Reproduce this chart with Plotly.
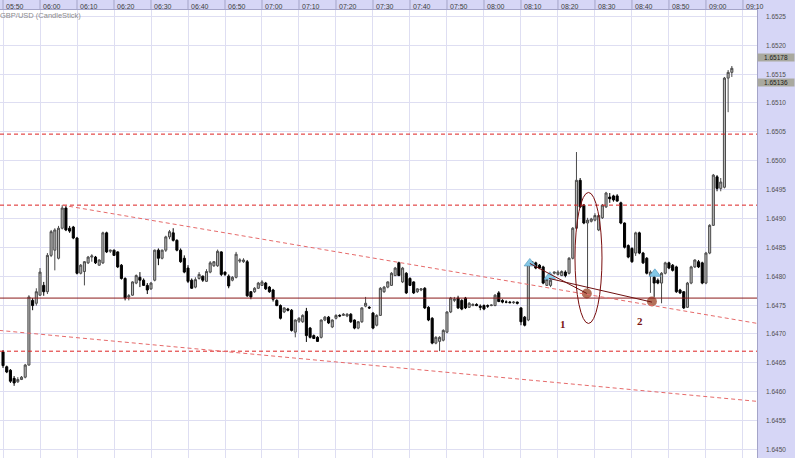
import pandas as pd
import plotly.graph_objects as go

# ---------------- data (GBP/USD 1-minute candles, 05:50 -> 09:07) ----------------
opens = [1.64669, 1.64643, 1.64637, 1.64623, 1.64617, 1.64621, 1.64625, 1.64646, 1.64758, 1.64753,
         1.64767, 1.64784, 1.64773, 1.64836, 1.64845, 1.64831, 1.64883, 1.64918, 1.64883, 1.64885,
         1.64866, 1.64805, 1.64808, 1.64823, 1.64833, 1.64833, 1.64819, 1.64823, 1.64875, 1.64843,
         1.64845, 1.64842, 1.64819, 1.64796, 1.64764, 1.64767, 1.64788, 1.64798, 1.64793, 1.64784,
         1.64778, 1.64793, 1.64845, 1.64831, 1.64845, 1.64868, 1.64875, 1.64862, 1.64845, 1.64831,
         1.64814, 1.64793, 1.64781, 1.64796, 1.64800, 1.64791, 1.64807, 1.64818, 1.64818, 1.64842,
         1.64807, 1.64800, 1.64793, 1.64798, 1.64826, 1.64825, 1.64825, 1.64773, 1.64773, 1.64779,
         1.64784, 1.64788, 1.64781, 1.64776, 1.64758, 1.64749, 1.64738, 1.64743, 1.64741, 1.64703,
         1.64722, 1.64721, 1.64739, 1.64710, 1.64697, 1.64694, 1.64694, 1.64724, 1.64729, 1.64712,
         1.64727, 1.64732, 1.64732, 1.64731, 1.64734, 1.64724, 1.64710, 1.64721, 1.64748, 1.64746,
         1.64736, 1.64715, 1.64732, 1.64773, 1.64781, 1.64784, 1.64801, 1.64823, 1.64790, 1.64805,
         1.64796, 1.64790, 1.64773, 1.64776, 1.64779, 1.64746, 1.64727, 1.64684, 1.64687, 1.64689,
         1.64703, 1.64738, 1.64758, 1.64762, 1.64758, 1.64762, 1.64746, 1.64749, 1.64751, 1.64748,
         1.64749, 1.64749, 1.64749, 1.64749, 1.64771, 1.64758, 1.64755, 1.64755, 1.64754, 1.64755,
         1.64745, 1.64729, 1.64724, 1.64823, 1.64823, 1.64819, 1.64816, 1.64784, 1.64784, 1.64805,
         1.64803, 1.64801, 1.64807, 1.64805, 1.64831, 1.64883, 1.64966, 1.64923, 1.64892, 1.64895,
         1.64897, 1.64880, 1.64901, 1.64920, 1.64937, 1.64939, 1.64939, 1.64927, 1.64892, 1.64853,
         1.64848, 1.64840, 1.64875, 1.64840, 1.64831, 1.64801, 1.64798, 1.64793, 1.64788, 1.64805,
         1.64823, 1.64819, 1.64816, 1.64776, 1.64773, 1.64746, 1.64788, 1.64816, 1.64825, 1.64823,
         1.64788, 1.64840, 1.64888, 1.64972, 1.64952, 1.64954, 1.65143, 1.65153]
highs = [1.64672, 1.64645, 1.64639, 1.64627, 1.64625, 1.64627, 1.64648, 1.64767, 1.64762, 1.64779,
         1.64814, 1.64790, 1.64840, 1.64880, 1.64883, 1.64887, 1.64923, 1.64922, 1.64887, 1.64887,
         1.64868, 1.64821, 1.64826, 1.64835, 1.64838, 1.64835, 1.64829, 1.64877, 1.64877, 1.64846,
         1.64846, 1.64843, 1.64821, 1.64798, 1.64769, 1.64791, 1.64803, 1.64807, 1.64796, 1.64788,
         1.64790, 1.64846, 1.64848, 1.64846, 1.64870, 1.64880, 1.64883, 1.64864, 1.64848, 1.64836,
         1.64819, 1.64796, 1.64798, 1.64807, 1.64801, 1.64812, 1.64826, 1.64826, 1.64846, 1.64843,
         1.64808, 1.64803, 1.64800, 1.64842, 1.64831, 1.64831, 1.64828, 1.64774, 1.64781, 1.64790,
         1.64793, 1.64790, 1.64783, 1.64778, 1.64760, 1.64751, 1.64746, 1.64745, 1.64743, 1.64725,
         1.64729, 1.64734, 1.64745, 1.64712, 1.64699, 1.64696, 1.64725, 1.64731, 1.64731, 1.64725,
         1.64734, 1.64734, 1.64736, 1.64736, 1.64736, 1.64725, 1.64722, 1.64746, 1.64764, 1.64748,
         1.64738, 1.64734, 1.64781, 1.64783, 1.64791, 1.64807, 1.64816, 1.64825, 1.64816, 1.64807,
         1.64798, 1.64791, 1.64779, 1.64779, 1.64781, 1.64748, 1.64729, 1.64696, 1.64696, 1.64708,
         1.64739, 1.64764, 1.64764, 1.64766, 1.64760, 1.64764, 1.64755, 1.64753, 1.64753, 1.64751,
         1.64751, 1.64751, 1.64751, 1.64769, 1.64774, 1.64760, 1.64758, 1.64757, 1.64757, 1.64756,
         1.64746, 1.64731, 1.64825, 1.64826, 1.64825, 1.64821, 1.64818, 1.64796, 1.64796, 1.64808,
         1.64810, 1.64810, 1.64810, 1.64833, 1.64885, 1.65015, 1.64970, 1.64925, 1.64901, 1.64901,
         1.64909, 1.64907, 1.64925, 1.64946, 1.64944, 1.64941, 1.64942, 1.64929, 1.64893, 1.64855,
         1.64850, 1.64877, 1.64877, 1.64842, 1.64833, 1.64810, 1.64800, 1.64796, 1.64807, 1.64825,
         1.64825, 1.64821, 1.64818, 1.64778, 1.64774, 1.64790, 1.64818, 1.64829, 1.64828, 1.64825,
         1.64842, 1.64890, 1.64977, 1.64975, 1.64970, 1.65145, 1.65157, 1.65164]
lows = [1.64641, 1.64632, 1.64615, 1.64610, 1.64615, 1.64620, 1.64623, 1.64645, 1.64741, 1.64749,
        1.64766, 1.64766, 1.64769, 1.64833, 1.64810, 1.64829, 1.64881, 1.64878, 1.64875, 1.64864,
        1.64803, 1.64803, 1.64784, 1.64821, 1.64825, 1.64821, 1.64818, 1.64821, 1.64840, 1.64840,
        1.64835, 1.64814, 1.64794, 1.64758, 1.64758, 1.64766, 1.64786, 1.64781, 1.64783, 1.64769,
        1.64776, 1.64791, 1.64819, 1.64829, 1.64842, 1.64864, 1.64860, 1.64843, 1.64823, 1.64805,
        1.64788, 1.64778, 1.64779, 1.64794, 1.64790, 1.64790, 1.64805, 1.64816, 1.64816, 1.64800,
        1.64800, 1.64779, 1.64791, 1.64796, 1.64823, 1.64823, 1.64764, 1.64760, 1.64771, 1.64778,
        1.64783, 1.64776, 1.64771, 1.64756, 1.64748, 1.64725, 1.64736, 1.64739, 1.64704, 1.64694,
        1.64719, 1.64719, 1.64686, 1.64692, 1.64691, 1.64686, 1.64692, 1.64722, 1.64717, 1.64710,
        1.64725, 1.64729, 1.64731, 1.64729, 1.64719, 1.64708, 1.64708, 1.64719, 1.64746, 1.64743,
        1.64708, 1.64713, 1.64731, 1.64771, 1.64779, 1.64783, 1.64800, 1.64800, 1.64788, 1.64769,
        1.64783, 1.64769, 1.64771, 1.64774, 1.64743, 1.64722, 1.64682, 1.64682, 1.64670, 1.64687,
        1.64701, 1.64736, 1.64755, 1.64743, 1.64741, 1.64743, 1.64745, 1.64748, 1.64748, 1.64741,
        1.64741, 1.64745, 1.64748, 1.64748, 1.64755, 1.64753, 1.64753, 1.64753, 1.64752, 1.64751,
        1.64715, 1.64713, 1.64722, 1.64821, 1.64812, 1.64812, 1.64786, 1.64783, 1.64781, 1.64803,
        1.64801, 1.64800, 1.64798, 1.64803, 1.64829, 1.64881, 1.64918, 1.64890, 1.64773, 1.64893,
        1.64895, 1.64878, 1.64899, 1.64918, 1.64927, 1.64929, 1.64929, 1.64890, 1.64848, 1.64831,
        1.64823, 1.64835, 1.64838, 1.64821, 1.64803, 1.64771, 1.64764, 1.64786, 1.64753, 1.64803,
        1.64812, 1.64808, 1.64771, 1.64769, 1.64743, 1.64745, 1.64786, 1.64814, 1.64814, 1.64786,
        1.64786, 1.64838, 1.64887, 1.64947, 1.64947, 1.64952, 1.65084, 1.65145]
closes = [1.64645, 1.64634, 1.64618, 1.64615, 1.64621, 1.64625, 1.64646, 1.64764, 1.64749, 1.64773,
          1.64807, 1.64773, 1.64836, 1.64877, 1.64880, 1.64883, 1.64918, 1.64880, 1.64878, 1.64866,
          1.64805, 1.64819, 1.64825, 1.64833, 1.64835, 1.64823, 1.64828, 1.64875, 1.64842, 1.64845,
          1.64836, 1.64816, 1.64796, 1.64762, 1.64766, 1.64790, 1.64801, 1.64793, 1.64784, 1.64776,
          1.64788, 1.64845, 1.64831, 1.64845, 1.64868, 1.64877, 1.64862, 1.64845, 1.64825, 1.64807,
          1.64791, 1.64779, 1.64794, 1.64803, 1.64793, 1.64808, 1.64823, 1.64825, 1.64843, 1.64803,
          1.64803, 1.64783, 1.64798, 1.64838, 1.64828, 1.64828, 1.64766, 1.64764, 1.64779, 1.64788,
          1.64790, 1.64778, 1.64773, 1.64760, 1.64749, 1.64727, 1.64745, 1.64741, 1.64706, 1.64724,
          1.64727, 1.64732, 1.64697, 1.64694, 1.64692, 1.64687, 1.64724, 1.64729, 1.64719, 1.64724,
          1.64732, 1.64731, 1.64734, 1.64734, 1.64721, 1.64710, 1.64721, 1.64745, 1.64753, 1.64745,
          1.64710, 1.64732, 1.64779, 1.64781, 1.64790, 1.64805, 1.64814, 1.64801, 1.64814, 1.64771,
          1.64784, 1.64771, 1.64778, 1.64778, 1.64745, 1.64724, 1.64684, 1.64694, 1.64694, 1.64706,
          1.64738, 1.64762, 1.64760, 1.64745, 1.64743, 1.64745, 1.64753, 1.64751, 1.64749, 1.64746,
          1.64743, 1.64748, 1.64750, 1.64767, 1.64756, 1.64755, 1.64755, 1.64754, 1.64755, 1.64753,
          1.64721, 1.64715, 1.64823, 1.64825, 1.64814, 1.64814, 1.64788, 1.64794, 1.64793, 1.64807,
          1.64807, 1.64808, 1.64801, 1.64831, 1.64883, 1.64966, 1.64920, 1.64892, 1.64897, 1.64899,
          1.64905, 1.64905, 1.64923, 1.64944, 1.64934, 1.64932, 1.64930, 1.64892, 1.64850, 1.64833,
          1.64825, 1.64875, 1.64840, 1.64823, 1.64805, 1.64807, 1.64788, 1.64788, 1.64805, 1.64823,
          1.64814, 1.64810, 1.64773, 1.64771, 1.64745, 1.64788, 1.64816, 1.64828, 1.64816, 1.64788,
          1.64840, 1.64888, 1.64975, 1.64952, 1.64963, 1.65143, 1.65153, 1.65160]

session_date = "2013-06-27"
first_bar = "05:50"
x_tick_labels = ["05:50", "06:00", "06:10", "06:20", "06:30", "06:40", "06:50", "07:00",
                 "07:10", "07:20", "07:30", "07:40", "07:50", "08:00", "08:10", "08:20",
                 "08:30", "08:40", "08:50", "09:00", "09:10"]
y_tick_vals = [1.6450, 1.6455, 1.6460, 1.6465, 1.6470, 1.6475, 1.6480, 1.6485,
               1.6490, 1.6495, 1.6500, 1.6505, 1.6510, 1.6515, 1.6520, 1.6525]
x_view = ["05:49:11", "09:13:48"]
y_view = [1.64485, 1.65261]

# drawn objects (analysis overlay)
dashed_levels = [1.65046, 1.64923, 1.64670]
solid_level = 1.64762
channel_upper = [("06:06", 1.64923), ("09:14", 1.64718)]
channel_lower = [("05:49", 1.64706), ("09:14", 1.64583)]
trend_a = [("08:12:24", 1.64822), ("08:27:48", 1.64770)]
trend_b = [("08:17:36", 1.64796), ("08:45:24", 1.64755)]
signal_times = ["08:12:24", "08:17:48", "08:46:12"]
signal_prices = [1.64822, 1.64799, 1.64804]
touch_times = ["08:27:48", "08:45:24"]
touch_prices = [1.64770, 1.64756]
ellipse_box = [("08:24:36", 1.64718), ("08:31:54", 1.64945)]
point_labels = [("1", "08:21:22", 1.64717), ("2", "08:42:10", 1.64723)]
price_tags = [1.65178, 1.65136]
title_text = "GBP/USD (CandleStick)"


def ts(hm):
    return session_date + " " + hm


times = pd.date_range(ts(first_bar), periods=len(opens), freq="min")

PANEL = "#d6d6f6"
GRID = "#dedef2"
FONT = "Liberation Sans"

fig = go.Figure()
fig.add_trace(go.Candlestick(
    x=times, open=opens, high=highs, low=lows, close=closes,
    increasing=dict(line=dict(color="#4a4a4a", width=1), fillcolor="#b8b8b8"),
    decreasing=dict(line=dict(color="#000000", width=1), fillcolor="#000000"),
    whiskerwidth=0, hoverinfo="skip", showlegend=False,
))

shapes = []
for lv in dashed_levels:
    shapes.append(dict(type="line", xref="paper", yref="y", x0=0, x1=1, y0=lv, y1=lv,
                       line=dict(color="#dd2222", width=1, dash="4px,3px")))
shapes.append(dict(type="line", xref="paper", yref="y", x0=0, x1=1, y0=solid_level, y1=solid_level,
                   line=dict(color="#8a1a1a", width=1)))
for seg in (channel_upper, channel_lower):
    shapes.append(dict(type="line", xref="x", yref="y", x0=ts(seg[0][0]), y0=seg[0][1],
                       x1=ts(seg[1][0]), y1=seg[1][1],
                       line=dict(color="#e66a6a", width=1, dash="4px,3px")))
for seg in (trend_a, trend_b):
    shapes.append(dict(type="line", xref="x", yref="y", x0=ts(seg[0][0]), y0=seg[0][1],
                       x1=ts(seg[1][0]), y1=seg[1][1],
                       line=dict(color="#6e1010", width=1)))
shapes.append(dict(type="circle", xref="x", yref="y",
                   x0=ts(ellipse_box[0][0]), y0=ellipse_box[0][1],
                   x1=ts(ellipse_box[1][0]), y1=ellipse_box[1][1],
                   line=dict(color="#7a0e0e", width=1)))
# separators in the time strip
for lab in x_tick_labels:
    shapes.append(dict(type="line", xref="x", yref="paper", x0=ts(lab), x1=ts(lab),
                       y0=1, y1=1 + 10 / 448, line=dict(color="#a4a4c8", width=1)))

fig.add_trace(go.Scatter(
    x=[ts(t) for t in touch_times], y=touch_prices, mode="markers",
    marker=dict(symbol="circle", size=10, color="#b3715a"),
    hoverinfo="skip", showlegend=False))
fig.add_trace(go.Scatter(
    x=[ts(t) for t in signal_times], y=signal_prices, mode="markers",
    marker=dict(symbol="triangle-up", size=10, color="#84c8e6",
                line=dict(color="#4f94bc", width=0.6)),
    hoverinfo="skip", showlegend=False))

annotations = []
for lab in x_tick_labels:
    annotations.append(dict(x=ts(lab), xref="x", y=(458 - 6.5) / 448, yref="paper",
                            text=lab, showarrow=False, xanchor="left", yanchor="middle",
                            xshift=1, font=dict(family=FONT, size=7, color="#404040")))
annotations.append(dict(x=0, xref="paper", y=(458 - 16) / 448, yref="paper", text=title_text,
                        showarrow=False, xanchor="left", yanchor="middle", xshift=-2,
                        font=dict(family=FONT, size=7.5, color="#8c8c8c")))
for txt, t, p in point_labels:
    annotations.append(dict(x=ts(t), xref="x", y=p, yref="y", text="<b>" + txt + "</b>",
                            showarrow=False, xanchor="center", yanchor="middle",
                            font=dict(family="Liberation Serif", size=11, color="#7a1414")))
for v in y_tick_vals:
    annotations.append(dict(x=1, xref="paper", y=v, yref="y", text="%.4f" % v,
                            showarrow=False, xanchor="center", yanchor="middle", xshift=19,
                            font=dict(family=FONT, size=6.5, color="#505050")))
for p in price_tags:
    annotations.append(dict(x=1, xref="paper", y=p, yref="y", text="%.5f" % p,
                            showarrow=False, xanchor="left", yanchor="middle", xshift=0,
                            width=36, height=7, borderpad=0, bgcolor="#a9a99f",
                            font=dict(family=FONT, size=6.5, color="#202020")))

fig.update_layout(
    width=795, height=458,
    margin=dict(l=0, r=38, t=10, b=0, pad=0),
    paper_bgcolor=PANEL, plot_bgcolor="white",
    showlegend=False, boxgap=0.2,
    shapes=shapes, annotations=annotations,
    xaxis=dict(type="date", range=[ts(x_view[0]), ts(x_view[1])],
               rangeslider=dict(visible=False), side="top",
               showgrid=True, gridcolor=GRID, gridwidth=1,
               tick0=ts(first_bar), dtick=600000, showticklabels=False, ticks="",
               showline=True, linecolor="#a4a4c8", linewidth=1, zeroline=False),
    yaxis=dict(side="right", range=y_view, tickvals=y_tick_vals,
               showgrid=True, gridcolor=GRID, gridwidth=1, ticks="",
               showticklabels=False,
               showline=True, linecolor="#a4a4c8", linewidth=1, zeroline=False),
)

fig.write_html(
    "out.html",
    config={"displayModeBar": False},
    post_script="document.body.style.margin='0';document.body.style.overflow='hidden';",
)
